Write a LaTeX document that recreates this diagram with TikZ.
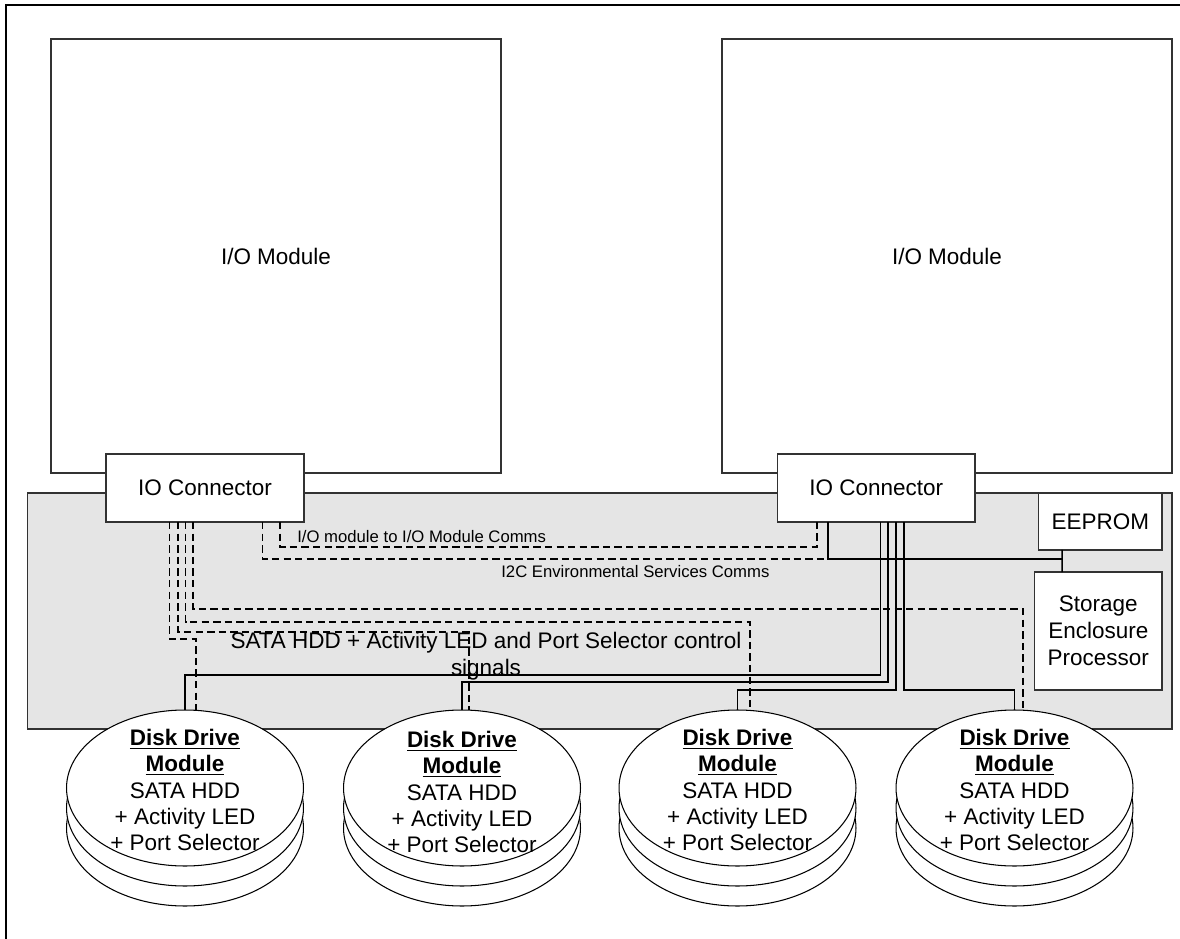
\documentclass[tikz,border=0pt]{standalone}
\usepackage{fontspec}
\setmainfont{Liberation Sans}
\usetikzlibrary{calc,shapes.geometric}
\definecolor{panelgray}{RGB}{229,229,229}
\definecolor{edgegray}{RGB}{50,50,50}
\newcommand{\mainfs}{\fontsize{12.8}{15.3}\selectfont}
\newcommand{\diskfs}{\fontsize{12.8}{14.9}\selectfont}
\newcommand{\smallfs}{\fontsize{9.5}{11}\selectfont}

\begin{document}
\begin{tikzpicture}[x=0.02cm,y=-0.02cm,
  box/.style={draw=edgegray,line width=0.7pt,fill=white,inner sep=0pt,outer sep=0pt,font=\mainfs,align=center},
  panelbox/.style={draw=edgegray,line width=0.8pt,fill=panelgray,inner sep=0pt,outer sep=0pt},
  disc/.style={ellipse,draw=black,line width=0.6pt,fill=white,minimum width=4.74cm,minimum height=3.12cm,inner sep=0pt,outer sep=0pt},
  disktext/.style={align=center,font=\diskfs,inner sep=0pt},
  sig/.style={line width=0.75pt,dash pattern=on 4.2pt off 2.4pt},
  wire/.style={line width=0.85pt},
  lbl/.style={font=\smallfs,inner sep=0pt},
  frame/.style={line width=1.2pt}
]
\useasboundingbox (0,0) rectangle (1180,939);

% outer frame (top and left edges)
\draw[frame] (6,950) -- (6,5) -- (1190,5);

% backplane and the two I/O modules
\node[panelbox,minimum width=22.888cm,minimum height=4.72cm] (panel) at (599.8,611) {};
\node[box,minimum width=9cm,minimum height=8.68cm] (ioL) at (276,256) {I/O Module};
\node[box,minimum width=9cm,minimum height=8.68cm] (ioR) at (947,256) {I/O Module};

% disk stacks: two lower platters behind the top one
\foreach \n/\cx in {1/185,2/462,3/737.5,4/1014.5}{
  \node[disc] (d\n c) at (\cx,828) {};
  \node[disc] (d\n b) at (\cx,808) {};
  \node[disc] (d\n a) at (\cx,788) {};
}

% connectors and controller boxes
\node[box,minimum width=3.96cm,minimum height=1.36cm] (conL) at (205,488) {IO Connector};
\node[box,minimum width=3.95cm,minimum height=1.36cm] (conR) at (876.25,488) {IO Connector};
\node[box,minimum width=2.47cm,minimum height=1.14cm] (eeprom) at (1100.25,521.5) {EEPROM};
\node[box,minimum width=2.548cm,minimum height=2.36cm] (sep) at (1098.3,631) {Storage\\Enclosure\\Processor};

% SATA / LED / port selector signals from the left connector (dashed)
\draw[sig] ($(conL.south west)+(87,0)$) |- ($(d4a.north)+(8.5,-101)$) -- ($(d4a.north)+(8.5,0)$);
\draw[sig] ($(conL.south west)+(79.6,0)$) |- ($(d3a.north)+(12.5,-88)$) -- ($(d3a.north)+(12.5,0)$);
\draw[sig] ($(conL.south west)+(72,0)$) |- ($(d2a.north)+(7,-78)$) -- ($(d2a.north)+(7,0)$);
\draw[sig] ($(conL.south west)+(63.5,0)$) |- ($(d1a.north)+(11,-71)$) -- ($(d1a.north)+(11,0)$);

% SATA / LED / port selector signals from the right connector (solid)
\draw[wire] ($(conR.south west)+(102.9,0)$) |- ($(d1a.north)+(0,-35)$) -- (d1a.north);
\draw[wire] ($(conR.south west)+(110.5,0)$) |- ($(d2a.north)+(0,-28)$) -- (d2a.north);
\draw[wire] ($(conR.south west)+(118.5,0)$) |- ($(d3a.north)+(0,-20)$) -- (d3a.north);
\draw[wire] ($(conR.south west)+(126.5,0)$) |- ($(d4a.north)+(0,-20)$) -- (d4a.north);

% module-to-module and I2C links
\draw[sig] ($(conL.south west)+(174,0)$) |- ($(conR.south west)+(39.5,25)$) -- ($(conR.south west)+(39.5,0)$);
\draw[sig] ($(conL.south west)+(156.5,0)$) -- ($(conL.south west)+(156.5,37)$) -- ($(conR.south west)+(50.5,37)$);
\draw[wire] ($(conR.south west)+(50.5,0)$) |- ($(eeprom.south west)+(23.5,9)$);
\draw[wire] ($(eeprom.south west)+(23.5,0)$) -- ($(sep.north west)+(27.4,0)$);

% disk labels
\foreach \n/\cx/\cy in {1/185/790,2/462/792,3/737.5/790,4/1014.5/790}{
  \node[disktext] (t\n) at (\cx,\cy) {\underline{\textbf{Disk Drive}}\\\underline{\textbf{Module}}\\SATA HDD\\+ Activity LED\\+ Port Selector};
}

% link labels
\node[lbl,anchor=west] (lblio) at (297,537) {I/O module to I/O Module Comms};
\node[lbl,anchor=west] (lbli2c) at (501,572) {I2C Environmental Services Comms};
\node[align=center,font=\mainfs,inner sep=0pt] (lblsata) at (486,656) {SATA HDD + Activity LED and Port Selector control\\signals};
\end{tikzpicture}
\end{document}
